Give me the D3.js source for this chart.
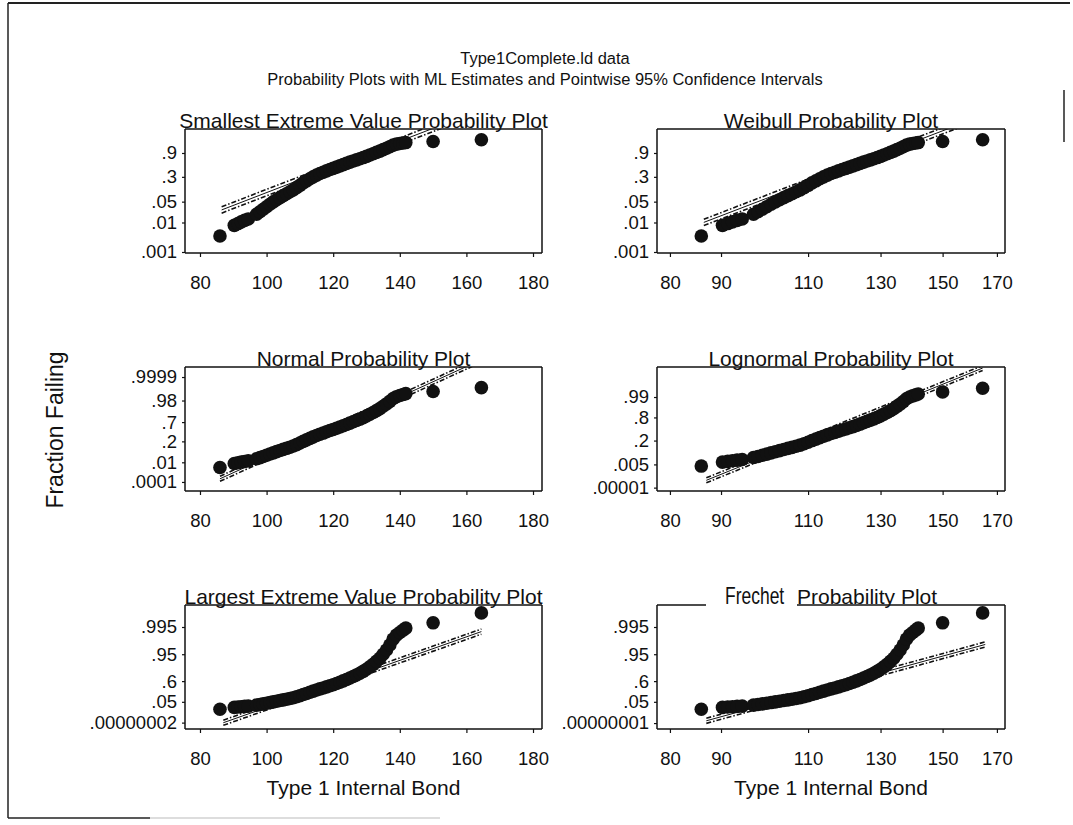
<!DOCTYPE html>
<html lang="en">
<head>
<meta charset="utf-8">
<script src="https://d3js.org/d3.v7.min.js"></script>
<style>
  body { margin: 0; background: #fff; }
  text { font-family: "Liberation Sans", Arial, Helvetica, sans-serif; fill: #111; }
</style>
</head>
<body>
<script>
var width = 1073, height = 825;

// Type 1 internal bond values and the fraction failing they are plotted at
var bondValues = [86.0, 90.3, 91.4, 92.4, 93.4, 94.5, 97, 98, 99, 100, 101, 102, 103, 104, 105,
  106, 107, 108, 109, 110, 111, 112, 113, 114, 115, 116, 117, 118, 119, 120, 121, 122, 123, 124,
  125, 126, 127, 128, 129, 130, 131, 132, 133, 134, 135, 136, 137, 138, 139, 140, 141, 141.8,
  150.0, 164.5];
var fractionFailing = [.0035, .0080, .0092, .0105, .0118, .0132, .0190, .0230, .0280, .0340, .0410,
  .0490, .0580, .0680, .0790, .0910, .1050, .1210, .1420, .1680, .2000, .2300, .2650, .3000, .3350,
  .3700, .4000, .4350, .4700, .5000, .5350, .5700, .6050, .6400, .6750, .7100, .7400, .7700, .8000,
  .8300, .8600, .8850, .9100, .9300, .9500, .9650, .9770, .9860, .9900, .9920, .9935, .9945,
  .9965, .9985];

var panelTitles = ["Smallest Extreme Value Probability Plot", "Weibull Probability Plot",
  "Normal Probability Plot", "Lognormal Probability Plot",
  "Largest Extreme Value Probability Plot", "Frechet Probability Plot"];
var panelDist = ["sev", "sev", "normal", "normal", "lev", "lev"];
var panelLogX = [false, true, false, true, false, true];

var yTickValues = [
  [.9, .3, .05, .01, .001],
  [.9, .3, .05, .01, .001],
  [.9999, .98, .7, .2, .01, .0001],
  [.99, .8, .2, .005, .00001],
  [.995, .95, .6, .05, .00000002],
  [.995, .95, .6, .05, .00000001]
];
var yTickLabels = [
  [".9", ".3", ".05", ".01", ".001"],
  [".9", ".3", ".05", ".01", ".001"],
  [".9999", ".98", ".7", ".2", ".01", ".0001"],
  [".99", ".8", ".2", ".005", ".00001"],
  [".995", ".95", ".6", ".05", ".00000002"],
  [".995", ".95", ".6", ".05", ".00000001"]
];
var xTicksLinear = [80, 100, 120, 140, 160, 180];
var xTicksLog = [80, 90, 110, 130, 150, 170];

// ML estimates: location / scale (log scale for Weibull, lognormal, Frechet)
var fitLocation = [122.5, 4.8132, 118.5, 4.757, 115.7, 4.7339];
var fitScale = [9.95, 0.0769, 9.3, 0.078, 9.95, 0.0986];
var fitFrom = [86.5, 86.5, 86, 87, 87, 87];
var fitTo = [165, 165, 165, 164.5, 164.5, 165.5];
var ciHalf = [0.25, 0.25, 0.18, 0.18, 0.22, 0.22];

// inverse normal cdf (Acklam)
function qnorm(p) {
  var a = [-3.969683028665376e+01, 2.209460984245205e+02, -2.759285104469687e+02, 1.383577518672690e+02, -3.066479806614716e+01, 2.506628277459239e+00];
  var b = [-5.447609879822406e+01, 1.615858368580409e+02, -1.556989798598866e+02, 6.680131188771972e+01, -1.328068155288572e+01];
  var c = [-7.784894002430293e-03, -3.223964580411365e-01, -2.400758277161838e+00, -2.549671058680703e+00, 4.374664141464968e+00, 2.938163982698783e+00];
  var d = [7.784695709041462e-03, 3.224671290700398e-01, 2.445134137142996e+00, 3.754408661907416e+00];
  var q, r;
  if (p < 0.02425) {
    q = Math.sqrt(-2 * Math.log(p));
    return (((((c[0]*q+c[1])*q+c[2])*q+c[3])*q+c[4])*q+c[5]) / ((((d[0]*q+d[1])*q+d[2])*q+d[3])*q+1);
  }
  if (p > 1 - 0.02425) {
    q = Math.sqrt(-2 * Math.log(1 - p));
    return -(((((c[0]*q+c[1])*q+c[2])*q+c[3])*q+c[4])*q+c[5]) / ((((d[0]*q+d[1])*q+d[2])*q+d[3])*q+1);
  }
  q = p - 0.5; r = q * q;
  return (((((a[0]*r+a[1])*r+a[2])*r+a[3])*r+a[4])*r+a[5])*q / (((((b[0]*r+b[1])*r+b[2])*r+b[3])*r+b[4])*r+1);
}

var transforms = {
  sev: function(p) { return Math.log(-Math.log(1 - p)); },
  normal: qnorm,
  lev: function(p) { return -Math.log(-Math.log(p)); }
};

// layout
var colLeft = [185, 657], colRight = [542, 1005];
var rowTop = [129, 367, 605], boxH = 124;
var zDomain = [[-6.985, 2.71], [-6.985, 2.71], [-4.36, 4.43], [-4.51, 4.51], [-3.42, 7.176], [-3.42, 7.176]];
var sans = "'Liberation Sans', Arial, sans-serif";

var svg = d3.select("body").append("svg")
  .attr("width", width).attr("height", height);

// outer frame (scan shows only parts of the right and bottom edge)
var frame = svg.append("g").attr("stroke", "#222").attr("fill", "none");
frame.append("line").attr("x1", 8).attr("y1", 3).attr("x2", 1070).attr("y2", 3).attr("stroke-width", 2);
frame.append("line").attr("x1", 8).attr("y1", 3).attr("x2", 8).attr("y2", 818).attr("stroke-width", 1.5);
frame.append("line").attr("x1", 8).attr("y1", 818).attr("x2", 150).attr("y2", 818).attr("stroke-width", 1.5);
frame.append("line").attr("x1", 150).attr("y1", 818).attr("x2", 440).attr("y2", 818).attr("stroke", "#bbb");
frame.append("line").attr("x1", 1064).attr("y1", 90).attr("x2", 1064).attr("y2", 142).attr("stroke-width", 1.5);

// main title, set a little condensed like the original
svg.append("text").attr("transform", "translate(545,64) scale(0.97,1)").attr("text-anchor", "middle")
  .style("font-family", sans).style("font-size", "17px").text("Type1Complete.ld data");
svg.append("text").attr("transform", "translate(545,85) scale(0.97,1)").attr("text-anchor", "middle")
  .style("font-family", sans).style("font-size", "17px")
  .text("Probability Plots with ML Estimates  and Pointwise 95% Confidence Intervals");

svg.append("text").attr("transform", "translate(63,430) rotate(-90)").attr("text-anchor", "middle")
  .style("font-size", "23px").text("Fraction Failing");

panelTitles.forEach(function(title, i) {
  var col = i % 2, row = Math.floor(i / 2);
  var x0 = colLeft[col], x1 = colRight[col], y0 = rowTop[row], y1 = y0 + boxH;
  var x = panelLogX[i] ? d3.scaleLog().domain([77.65, 173.2]) : d3.scaleLinear().domain([75.5, 182.7]);
  x.range([x0, x1]);
  var y = d3.scaleLinear().domain(zDomain[i]).range([y1, y0]);
  var tf = transforms[panelDist[i]];
  var g = svg.append("g");

  g.append("clipPath").attr("id", "clip" + i).append("rect")
    .attr("x", x0).attr("y", y0).attr("width", x1 - x0).attr("height", y1 - y0);

  // fitted line with pointwise confidence bands
  function fitZ(v) {
    var t = panelLogX[i] ? Math.log(v) : v;
    return (t - fitLocation[i]) / fitScale[i];
  }
  var ends = [fitFrom[i], fitTo[i]];
  var fitLine = function(off) {
    return d3.line().x(function(v) { return x(v); }).y(function(v) { return y(fitZ(v) + off); })(ends);
  };
  var fg = g.append("g").attr("clip-path", "url(#clip" + i + ")").attr("fill", "none").attr("stroke", "#111");
  fg.append("path").attr("d", fitLine(0)).attr("stroke-width", 1);
  fg.append("path").attr("d", fitLine(ciHalf[i])).attr("stroke-width", 1.6).attr("stroke-dasharray", "5,2,1.5,2");
  fg.append("path").attr("d", fitLine(-ciHalf[i])).attr("stroke-width", 1.6).attr("stroke-dasharray", "5,2,1.5,2");

  // data points
  g.selectAll("circle").data(bondValues).join("circle")
    .attr("cx", function(d) { return x(d); })
    .attr("cy", function(d, j) { return y(tf(fractionFailing[j])); })
    .attr("r", 6.8)
    .attr("fill", "#111");

  // axes
  var xa = g.append("g").attr("transform", "translate(0," + y1 + ")")
    .call(d3.axisBottom(x).tickValues(panelLogX[i] ? xTicksLog : xTicksLinear)
      .tickFormat(d3.format("d")).tickSize(4).tickPadding(19));
  var ya = g.append("g").attr("transform", "translate(" + x0 + ",0)")
    .call(d3.axisLeft(y).tickValues(yTickValues[i].map(tf))
      .tickFormat(function(d, k) { return yTickLabels[i][k]; }).tickSize(3).tickPadding(5));
  [xa, ya].forEach(function(a) {
    a.select(".domain").remove();
    a.selectAll("line").attr("stroke", "#111").attr("stroke-width", 1.2);
    a.selectAll("text").style("font-size", "18.5px").attr("fill", "#111").style("font-family", sans);
  });

  // box
  var bx = g.append("g").attr("stroke", "#111").attr("stroke-width", 1.5).attr("fill", "none");
  bx.append("line").attr("x1", x0).attr("y1", y1).attr("x2", x1).attr("y2", y1);
  bx.append("line").attr("x1", x0).attr("y1", y0).attr("x2", x0).attr("y2", y1);
  bx.append("line").attr("x1", x1).attr("y1", y0).attr("x2", x1).attr("y2", y1);
  if (i === 5) {
    bx.append("line").attr("x1", x0).attr("y1", y0).attr("x2", 706).attr("y2", y0);
    bx.append("line").attr("x1", 797).attr("y1", y0).attr("x2", x1).attr("y2", y0);
    g.append("text").attr("transform", "translate(725," + (y0 - 1) + ") scale(0.76,1)")
      .style("font-size", "23px").text("Frechet");
    g.append("text").attr("x", 797).attr("y", y0 - 1).style("font-size", "21px").text("Probability Plot");
  } else {
    g.append("text").attr("x", (x0 + x1) / 2).attr("y", y0 - 1).attr("text-anchor", "middle")
      .style("font-size", "21px").text(title);
    bx.append("line").attr("x1", x0).attr("y1", y0).attr("x2", x1).attr("y2", y0);
  }

  if (row === 2) {
    g.append("text").attr("x", (x0 + x1) / 2).attr("y", 795).attr("text-anchor", "middle")
      .style("font-size", "21px").text("Type 1 Internal Bond");
  }
});
</script>
</body>
</html>
